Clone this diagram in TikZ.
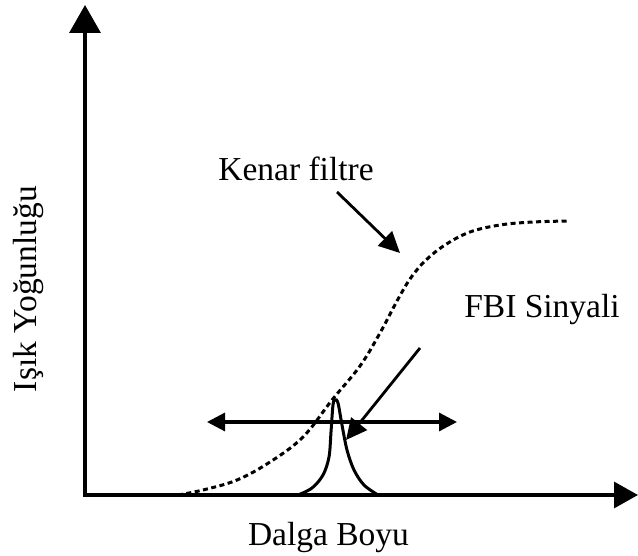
\documentclass[tikz,border=0pt]{standalone}
\usepackage{fontspec}
\setmainfont{Liberation Serif}
\usetikzlibrary{arrows.meta}
\begin{document}
\begin{tikzpicture}[x=1pt,y=-1pt,
  lbl/.style={inner sep=0pt, anchor=base, font=\fontsize{33.5}{40}\selectfont},
  axisline/.style={line width=3.3pt, {Triangle[length=28pt,width=31pt]}-{Triangle[length=24pt,width=26pt]}},
  rangearrow/.style={line width=3.2pt, {Triangle[length=18pt,width=18pt]}-{Triangle[length=18pt,width=18pt]}},
  pointer/.style={line width=2.8pt, -{Triangle[length=21pt,width=20pt]}},
  peak/.style={line width=3pt},
  edge/.style={line width=3pt, dash pattern=on 5pt off 3.5pt}
]
\useasboundingbox (0,0) rectangle (638,556);

% axes
\coordinate (o) at (85,495);
\coordinate (ytip) at (85,5);
\coordinate (xtip) at (638,495);
\draw[axisline] (ytip) -- (o) -- (xtip);

% labels
\node[lbl] (kenar) at (296,181) {Kenar filtre};
\node[lbl] (fbi) at (542,318) {FBI Sinyali};
\node[lbl] (dalga) at (328.5,545) {Dalga Boyu};
\node[lbl, rotate=90] (isik) at (36,289) {Işık Yoğunluğu};

% edge filter curve (dotted)
\draw[edge] plot[smooth, tension=0.6] coordinates {
  (178,495) (203,490) (237,480) (270,462) (303,437) (332,400)
  (360,366) (380,333) (397,301) (410,279) (425,261) (445,245)
  (470,232) (500,225) (533,222) (570,221)};

% FBI signal peak
\draw[peak] plot[smooth, tension=0.55] coordinates {
  (298,495) (312,488) (323,475) (329,457) (331,432) (333,405) (335,400)
  (338,403) (342,425) (347,450) (354,470) (364,485) (378,495)};

% range arrow
\coordinate (rl) at (207,422);
\coordinate (rr) at (457,422);
\draw[rangearrow] (rl) -- (rr);

% pointers
\coordinate (ks) at (337,192);
\coordinate (kt) at (400,253);
\draw[pointer] (ks) -- (kt);
\coordinate (fs) at (420,348);
\coordinate (ft) at (346,440);
\draw[pointer] (fs) -- (ft);
\end{tikzpicture}
\end{document}
